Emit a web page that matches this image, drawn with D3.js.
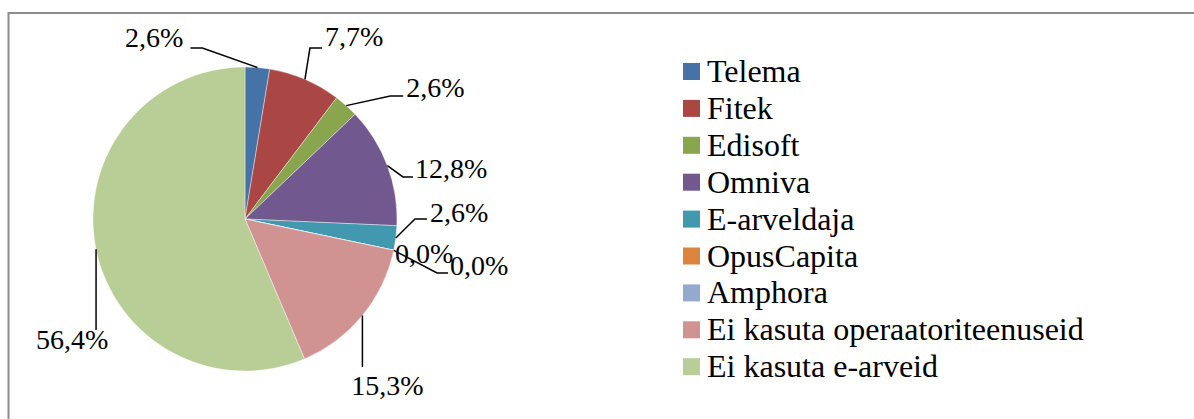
<!DOCTYPE html>
<html>
<head>
<meta charset="utf-8">
<script src="https://cdn.jsdelivr.net/npm/d3@7"></script>
<style>
  html, body { margin: 0; padding: 0; background: #fff; }
  svg { display: block; }
</style>
</head>
<body>
<div id="chart"></div>
<script>
// andmed
const categories = ["Telema", "Fitek", "Edisoft", "Omniva", "E-arveldaja", "OpusCapita", "Amphora", "Ei kasuta operaatoriteenuseid", "Ei kasuta e-arveid"];
const values = [2.6, 7.7, 2.6, 12.8, 2.6, 0.0, 0.0, 15.3, 56.4];
const labels = ["2,6%", "7,7%", "2,6%", "12,8%", "2,6%", "0,0%", "0,0%", "15,3%", "56,4%"];
const colors = ["#4572A7", "#AA4643", "#89A54E", "#71588F", "#4198AF", "#DB843D", "#93A9CF", "#D19392", "#B9CD96"];

// label placement relative to the slice edge point: [knee, end, text, anchor]
const labelLayout = [
  { knee: [-55, -19.5], end: [-67, -19.5], text: [-74, -20.5], anchor: "end" },
  { knee: [5, -31.3], end: [17, -31.3], text: [20, -33.3], anchor: "start" },
  { knee: [44, -9.7], end: [57, -9.7], text: [60, -8.7], anchor: "start" },
  { knee: [15.6, 11.2], end: [25.6, 11.2], text: [27.6, 12.2], anchor: "start" },
  { knee: [19.2, -19], end: [31.2, -19], text: [34.2, -16], anchor: "start" },
  { knee: null, end: null, text: [1.3, 12.7], anchor: "start" },
  { knee: [43.3, 22.7], end: [54.3, 22.7], text: [56.3, 24.7], anchor: "start" },
  { knee: [0, 51.5], end: [0, 51.5], text: [25, 79.5], anchor: "middle" },
  { knee: [0, 80.7], end: [0, 80.7], text: [-24, 100], anchor: "middle" }
];

const FONT = "'Liberation Serif', 'Times New Roman', Tinos, 'DejaVu Serif', serif";
const width = 1194, height = 419;
const cx = 245, cy = 219, r = 152;

const svg = d3.select("#chart").append("svg")
  .attr("width", width)
  .attr("height", height);

// raam
svg.append("rect")
  .attr("x", 8.5).attr("y", 13)
  .attr("width", 1200).attr("height", 430)
  .attr("fill", "none")
  .attr("stroke", "#8c8c8c")
  .attr("stroke-width", 2);

const pie = d3.pie().sort(null).value(d => d);
const arcs = pie(values);
const arc = d3.arc().innerRadius(0).outerRadius(r);

const g = svg.append("g").attr("transform", `translate(${cx},${cy})`);

g.selectAll("path.slice").data(arcs).enter()
  .append("path")
  .attr("class", "slice")
  .attr("d", arc)
  .attr("fill", (d, i) => colors[i])
  .attr("stroke", "#ffffff")
  .attr("stroke-width", 0.4);

// sildid ja juhtjooned
arcs.forEach((d, i) => {
  const mid = (d.startAngle + d.endAngle) / 2;
  const px = r * Math.sin(mid), py = -r * Math.cos(mid);
  const L = labelLayout[i];
  if (L.knee) {
    const pts = [[px, py], [px + L.knee[0], py + L.knee[1]], [px + L.end[0], py + L.end[1]]];
    g.append("path")
      .attr("d", d3.line()(pts))
      .attr("fill", "none")
      .attr("stroke", "#000")
      .attr("stroke-width", 1.5);
  }
  g.append("text")
    .attr("x", px + L.text[0])
    .attr("y", py + L.text[1])
    .attr("text-anchor", L.anchor)
    .attr("font-family", FONT)
    .attr("font-size", 28)
    .attr("fill", "#000")
    .text(labels[i]);
});

// legend
const legend = svg.append("g").attr("transform", "translate(683,63)");
const rowH = 36.9;
const items = legend.selectAll("g").data(categories).enter()
  .append("g")
  .attr("transform", (d, i) => `translate(0,${i * rowH})`);
items.append("rect")
  .attr("width", 17).attr("height", 17)
  .attr("fill", (d, i) => colors[i]);
items.append("text")
  .attr("x", 24).attr("y", 19)
  .attr("font-family", FONT)
  .attr("font-size", 32)
  .attr("fill", "#000")
  .text(d => d);
</script>
</body>
</html>
